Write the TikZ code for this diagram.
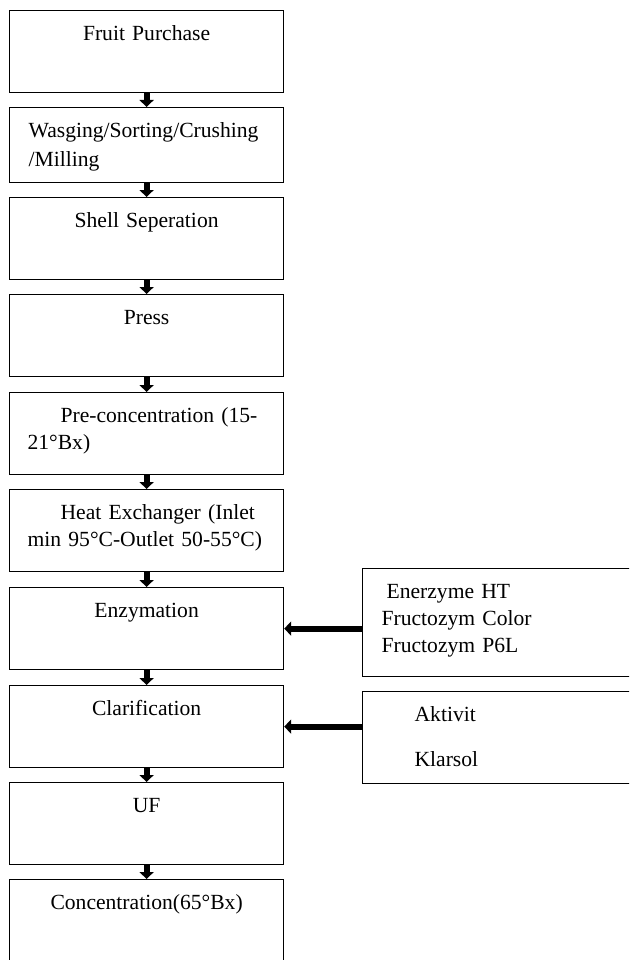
\documentclass[tikz,border=0pt]{standalone}
\usepackage{fontspec}
\setmainfont{Liberation Serif}
\usetikzlibrary{arrows.meta}

\tikzset{
	stage/.style={draw, line width=1.2pt, anchor=north west, inner sep=0pt,
		minimum width=274pt, text width=274pt, align=center,
		text height=30pt, text depth=52pt,
		font=\fontsize{21.6}{27}\selectfont},
	flow/.style={line width=6pt, -{Triangle[width=14pt,length=7pt]}},
}

\begin{document}
\begin{tikzpicture}[x=1pt, y=-1pt]
\useasboundingbox (0,0) rectangle (629,960);
\clip (0,0) rectangle (629,960);
% main line
\node[stage] (fruit) at (9,10) {Fruit Purchase};
\node[stage, align=left, text depth=45pt] (wash) at (9,107) {\hspace*{19pt}Wasging/Sorting/Crushing\\[2pt]\hspace*{19pt}/Milling};
\node[stage] (shell) at (9,197) {Shell Seperation};
\node[stage] (press) at (9,294) {Press};
\node[stage, align=left] (precon) at (9,392) {\hspace*{51pt}Pre-concentration (15-\\\hspace*{18pt}21°Bx)};
\node[stage, align=left] (heat) at (9,489) {\hspace*{51pt}Heat Exchanger (Inlet\\\hspace*{18pt}min 95°C-Outlet 50-55°C)};
\node[stage] (enzym) at (9,587) {Enzymation};
\node[stage] (clarif) at (9,685) {Clarification};
\node[stage] (uf) at (9,782) {UF};
\node[stage] (conc) at (9,879) {Concentration(65°Bx)};
% additives
\node[stage, align=left, minimum width=300pt, text width=300pt, text depth=78pt] (enzymes) at (362,568)
	{\hspace*{24pt}Enerzyme HT\\\hspace*{19pt}Fructozym Color\\\hspace*{19pt}Fructozym P6L};
\node[stage, align=left, minimum width=300pt, text width=300pt, text depth=62pt] (aids) at (362,691)
	{\hspace*{52pt}Aktivit\\[18pt]\hspace*{52pt}Klarsol};
% arrows
\draw[flow] (fruit.south) -- (wash.north);
\draw[flow] (wash.south) -- (shell.north);
\draw[flow] (shell.south) -- (press.north);
\draw[flow] (press.south) -- (precon.north);
\draw[flow] (precon.south) -- (heat.north);
\draw[flow] (heat.south) -- (enzym.north);
\draw[flow] (enzym.south) -- (clarif.north);
\draw[flow] (clarif.south) -- (uf.north);
\draw[flow] (uf.south) -- (conc.north);
\draw[flow] (enzym.east -| enzymes.west) -- (enzym.east);
\draw[flow] (clarif.east -| aids.west) -- (clarif.east);
\end{tikzpicture}
\end{document}
